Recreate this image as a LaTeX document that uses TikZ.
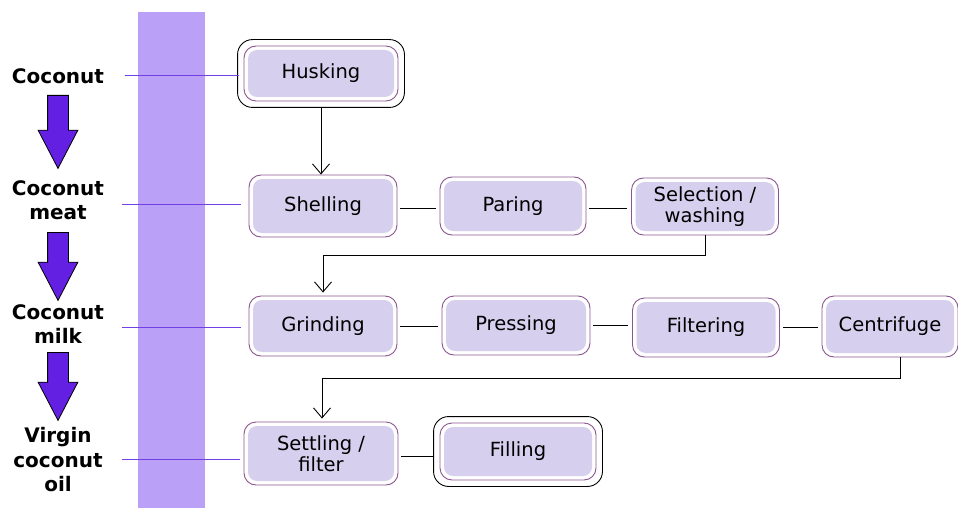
\documentclass[tikz,border=0pt]{standalone}
\usepackage{fontspec}
\setmainfont{DejaVu Sans}
\usetikzlibrary{arrows.meta,shapes.arrows}

\definecolor{bandpurple}{RGB}{187,160,248}
\definecolor{arrowpurple}{RGB}{100,32,226}
\definecolor{tiepurple}{RGB}{112,64,230}
\definecolor{boxedge}{RGB}{140,85,145}
\definecolor{boxfill}{RGB}{214,208,238}

\begin{document}
\begin{tikzpicture}[x=1pt, y=-1pt,
    stage/.style={draw=boxedge, fill=white, line width=0.9pt, rounded corners=12pt,
        minimum width=148pt, minimum height=60pt, align=center, inner sep=2pt,
        font=\fontsize{19.5}{21}\selectfont,
        path picture={\fill[boxfill, rounded corners=9pt]
            ([shift={(4pt,4pt)}]path picture bounding box.south west) rectangle
            ([shift={(-4pt,-4pt)}]path picture bounding box.north east);}},
    frame/.style={draw=black, line width=0.9pt, rounded corners=15pt},
    product/.style={align=center, font=\bfseries\fontsize{20}{24.5}\selectfont},
    bigarrow/.style={single arrow, draw=black, fill=arrowpurple, line width=0.8pt,
        rotate=-90, anchor=tail, inner xsep=0pt, inner ysep=10pt,
        single arrow head extend=9.5pt, single arrow tip angle=55,
        single arrow head indent=0pt},
    tie/.style={draw=tiepurple, line width=1pt},
    flow/.style={draw=black, line width=0.9pt, -{Straight Barb[length=10pt, width=17pt]}},
    link/.style={draw=black, line width=0.9pt, shorten <=3pt, shorten >=4pt}]
    \useasboundingbox (0, 0) rectangle (958, 508);
    \fill[bandpurple] (138, 12) rectangle (205, 508);

    % products on the left
    \node[product] (coco) at (58, 76) {Coconut};
    \node[product] (meat) at (58, 200) {Coconut\\meat};
    \node[product] (milk) at (58, 324) {Coconut\\milk};
    \node[product] (oil) at (58, 460) {Virgin\\coconut\\oil};
    \node[bigarrow, minimum height=73pt] (a1) at (58, 95) {};
    \node[bigarrow, minimum height=68pt] (a2) at (58, 232) {};
    \node[bigarrow, minimum height=68pt] (a3) at (58, 352) {};

    % process steps
    \node[stage, minimum width=154pt, minimum height=55pt] (husk) at (321, 73.5) {Husking};
    \node[stage, minimum height=62pt] (shell) at (323, 206) {Shelling};
    \node[stage, minimum width=146pt, minimum height=58pt] (paring) at (513, 206) {Paring};
    \node[stage, minimum width=147pt, minimum height=57pt] (select) at (705, 206.5) {Selection /\\washing};
    \node[stage] (grind) at (323, 326) {Grinding};
    \node[stage, minimum height=59pt] (press) at (516, 325.5) {Pressing};
    \node[stage, minimum width=147pt, minimum height=59pt] (filt) at (706, 327.5) {Filtering};
    \node[stage, minimum width=136pt, minimum height=61pt] (cent) at (890, 326.5) {Centrifuge};
    \node[stage, minimum width=154pt, minimum height=63pt] (settle) at (321, 453.5) {Settling /\\filter};
    \node[stage, minimum width=156pt, minimum height=57pt] (fill) at (518, 451.5) {Filling};
    \draw[frame] ([shift={(-6pt,-6pt)}]husk.south west) rectangle ([shift={(6pt,6pt)}]husk.north east);
    \draw[frame] ([shift={(-6pt,-6pt)}]fill.south west) rectangle ([shift={(6pt,6pt)}]fill.north east);

    % ties from products to steps
    \draw[tie] ([xshift=17pt]coco.east) -- ([xshift=-5pt]coco.east -| husk.west);
    \draw[tie] (122, 204) -- ([xshift=-8pt]shell.west |- 0, 204);
    \draw[tie] (122, 327) -- ([xshift=-8pt]grind.west |- 0, 327);
    \draw[tie] (122, 459) -- ([xshift=-4pt]settle.west |- 0, 459);

    % flow
    \draw[flow] (husk.south) ++(0, 6) -- (husk.south |- shell.north);
    \draw[link] ([yshift=-2pt]shell.east) -- ([yshift=-2pt]shell.east -| paring.west);
    \draw[link] ([yshift=-2pt]paring.east) -- ([yshift=-2pt]paring.east -| select.west);
    \draw[flow] (select.south) -- ++(0, 20) -| ([yshift=3pt]grind.north);
    \draw[link] (grind.east) -- (grind.east -| press.west);
    \draw[link] (press.east) -- (press.east -| filt.west);
    \draw[link] (filt.east) -- (filt.east -| cent.west);
    \draw[flow] ([xshift=10pt]cent.south) -- ++(0, 21) -| ([xshift=1pt, yshift=3pt]settle.north);
    \draw[link, shorten >=0pt] ([yshift=-3pt]settle.east) -- ([xshift=-6pt, yshift=-3pt]settle.east -| fill.west);
\end{tikzpicture}
\end{document}
